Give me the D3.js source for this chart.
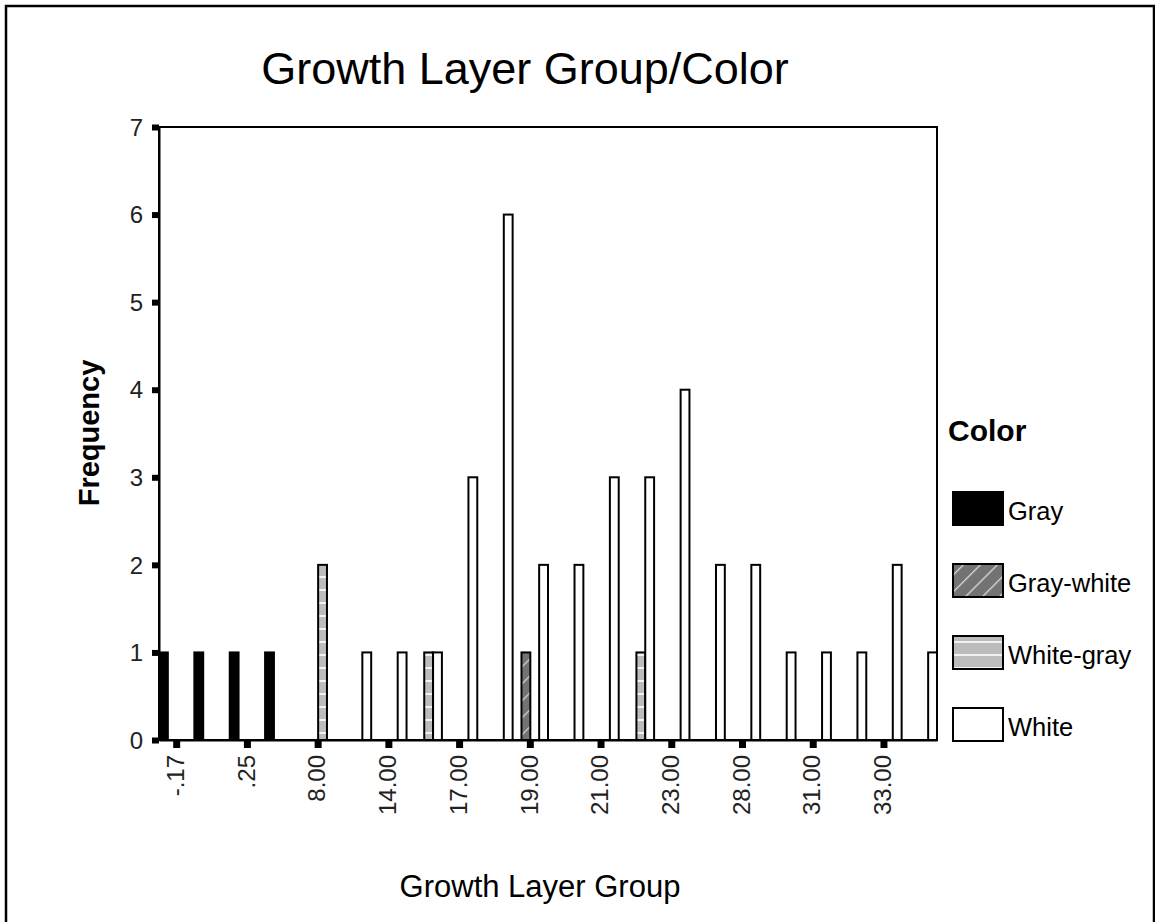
<!DOCTYPE html>
<html>
<head>
<meta charset="utf-8">
<script src="https://cdn.jsdelivr.net/npm/d3@7"></script>
<style>
    body { margin: 0; background: #fff; }
    svg { font-family: "Liberation Sans", Arial, sans-serif; }
</style>
</head>
<body>
<div id="chart"></div>
<script>
const categories = ["-.17", ".00", ".25", "7.00", "8.00", "13.00", "14.00", "16.00", "17.00", "18.00", "19.00",
    "20.00", "21.00", "22.00", "23.00", "24.00", "28.00", "29.00", "31.00", "32.00", "33.00", "34.00"];
const seriesNames = ["Gray", "Gray-white", "White-gray", "White"];
const gray      = [1, 1, 1, 1, 0, 0, 0, 0, 0, 0, 0, 0, 0, 0, 0, 0, 0, 0, 0, 0, 0, 0];
const grayWhite = [0, 0, 0, 0, 0, 0, 0, 0, 0, 0, 1, 0, 0, 0, 0, 0, 0, 0, 0, 0, 0, 0];
const whiteGray = [0, 0, 0, 0, 2, 0, 0, 1, 0, 0, 0, 0, 0, 1, 0, 0, 0, 0, 0, 0, 0, 0];
const white     = [0, 0, 0, 0, 0, 1, 1, 1, 3, 6, 2, 2, 3, 3, 4, 2, 2, 1, 1, 1, 2, 1];
const yTicks = [0, 1, 2, 3, 4, 5, 6, 7];

const values = [gray, grayWhite, whiteGray, white];
const fills = ["#000", "url(#hatch-diag)", "url(#hatch-horiz)", "#fff"];

const width = 1155, height = 922;
const plotLeft = 159, plotRight = 937, plotTop = 127, plotBottom = 740;

const svg = d3.select("#chart").append("svg").attr("width", width).attr("height", height);

// patterns for the two mixed colours
const defs = svg.append("defs");
const diag = defs.append("pattern").attr("id", "hatch-diag")
    .attr("patternUnits", "userSpaceOnUse").attr("width", 12).attr("height", 12)
    .attr("patternTransform", "rotate(45)");
diag.append("rect").attr("width", 12).attr("height", 12).style("fill", "#737373");
diag.append("line").attr("x1", 0).attr("y1", 0).attr("x2", 0).attr("y2", 12)
    .style("stroke", "#d8d8d8").style("stroke-width", 2.5);

const horiz = defs.append("pattern").attr("id", "hatch-horiz")
    .attr("patternUnits", "userSpaceOnUse").attr("width", 10).attr("height", 13);
horiz.append("rect").attr("width", 10).attr("height", 13).style("fill", "#bcbcbc");
horiz.append("line").attr("x1", 0).attr("y1", 5).attr("x2", 10).attr("y2", 5)
    .style("stroke", "#f2f2f2").style("stroke-width", 2);

// outer border
svg.append("rect").attr("x", 6).attr("y", 6).attr("width", 1148).attr("height", 1000)
    .style("fill", "none").style("stroke", "#000").style("stroke-width", 2.5);

const x = d3.scaleBand().domain(categories).range([plotLeft, plotRight]).padding(0);
const xs = d3.scaleBand().domain(seriesNames).range([0, x.bandwidth()]).padding(0);
const y = d3.scaleLinear().domain([0, 7]).range([plotBottom, plotTop]);

// plot frame
svg.append("rect").attr("x", plotLeft).attr("y", plotTop)
    .attr("width", plotRight - plotLeft).attr("height", plotBottom - plotTop)
    .style("fill", "none").style("stroke", "#000").style("stroke-width", 2);

const bars = [];
categories.forEach((c, i) => {
    seriesNames.forEach((s, j) => {
        if (values[j][i] > 0) bars.push({ cat: c, series: s, value: values[j][i], fill: fills[j] });
    });
});

svg.append("g").selectAll("rect").data(bars).enter().append("rect")
    .attr("x", d => x(d.cat) + xs(d.series))
    .attr("y", d => y(d.value))
    .attr("width", xs.bandwidth())
    .attr("height", d => y(0) - y(d.value))
    .style("fill", d => d.fill)
    .style("stroke", "#000")
    .style("stroke-width", 2);

// axes
const yAxis = svg.append("g").attr("transform", `translate(${plotLeft},0)`)
    .call(d3.axisLeft(y).tickValues(yTicks).tickFormat(d3.format("d")).tickSize(7).tickPadding(9).tickSizeOuter(0));
yAxis.select(".domain").style("stroke-width", 2);
yAxis.selectAll(".tick line").style("stroke-width", 6);
yAxis.selectAll(".tick text").style("font-size", "24px").style("fill", "#222").attr("dy", "0.34em");

const labelled = categories.filter((d, i) => i % 2 === 0);
const xAxis = svg.append("g").attr("transform", `translate(0,${plotBottom})`)
    .call(d3.axisBottom(x).tickValues(labelled).tickSize(8).tickSizeOuter(0));
xAxis.select(".domain").style("stroke-width", 2);
xAxis.selectAll(".tick line").style("stroke-width", 7);
xAxis.selectAll(".tick text")
    .style("font-size", "24px").style("fill", "#222")
    .attr("transform", "rotate(-90)")
    .attr("x", -15).attr("y", 0).attr("dy", "0.3em")
    .attr("text-anchor", "end");

// titles
svg.append("text").attr("x", 525).attr("y", 84)
    .attr("text-anchor", "middle")
    .style("font-size", "45px")
    .text("Growth Layer Group/Color");

svg.append("text").attr("transform", "translate(99,433) rotate(-90)")
    .attr("text-anchor", "middle")
    .style("font-size", "29px").style("font-weight", "bold")
    .text("Frequency");

svg.append("text").attr("x", 540).attr("y", 897)
    .attr("text-anchor", "middle")
    .style("font-size", "31px")
    .text("Growth Layer Group");

// legend
const legend = svg.append("g");
legend.append("text").attr("x", 948).attr("y", 441)
    .style("font-size", "30px").style("font-weight", "bold")
    .text("Color");

const legendY = d3.scalePoint().domain(seriesNames).range([492, 708]);
legend.selectAll("rect.key").data(seriesNames).enter().append("rect")
    .attr("class", "key")
    .attr("x", 953).attr("y", d => legendY(d))
    .attr("width", 50).attr("height", 33)
    .style("fill", (d, i) => fills[i])
    .style("stroke", "#000").style("stroke-width", 2);
legend.selectAll("text.key").data(seriesNames).enter().append("text")
    .attr("class", "key")
    .attr("x", 1008).attr("y", d => legendY(d) + 28)
    .style("font-size", "25.5px")
    .text(d => d);
</script>
</body>
</html>
